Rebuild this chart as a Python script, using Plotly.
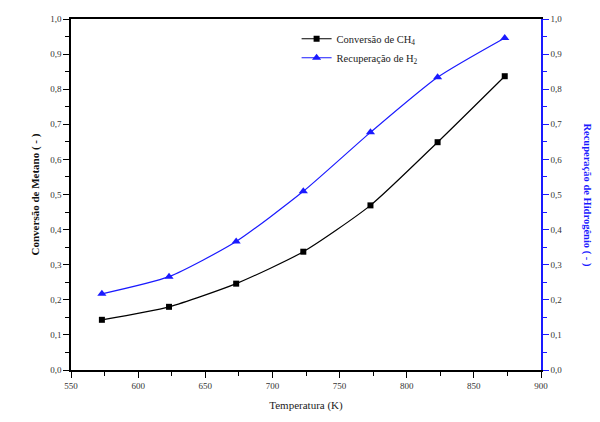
import plotly.graph_objects as go

temperature = [573, 623, 673, 723, 773, 823, 873]
conversao_ch4 = [0.143, 0.180, 0.246, 0.337, 0.469, 0.649, 0.837]
recuperacao_h2 = [0.217, 0.266, 0.366, 0.509, 0.677, 0.834, 0.946]

FONT = "Liberation Serif"
BLUE = "#1a1aff"

fig = go.Figure()
fig.add_trace(go.Scatter(
    x=temperature, y=conversao_ch4, name="Conversão de CH<sub>4</sub>",
    mode="lines+markers", line=dict(color="black", width=1.2, shape="spline", smoothing=0.6),
    marker=dict(symbol="square", size=6, color="black"),
))
fig.add_trace(go.Scatter(
    x=temperature, y=recuperacao_h2, name="Recuperação de H<sub>2</sub>",
    mode="lines+markers", line=dict(color=BLUE, width=1.2, shape="spline", smoothing=0.6),
    marker=dict(symbol="triangle-up", size=8, color=BLUE),
    yaxis="y2",
))

tickfont = dict(family=FONT, size=9, color="#333")

fig.update_layout(
    width=600, height=422,
    margin=dict(l=71, r=59, t=19, b=52),
    paper_bgcolor="white", plot_bgcolor="white",
    separators=",.",
    font=dict(family=FONT),
    showlegend=True,
    legend=dict(
        x=0.48, y=0.985, xanchor="left", yanchor="top",
        bgcolor="rgba(0,0,0,0)", font=dict(family=FONT, size=10.5, color="#222"),
        tracegroupgap=0, itemwidth=30,
    ),
    xaxis=dict(
        range=[550, 900], tick0=550, dtick=50,
        showgrid=False, zeroline=False, ticks="outside", ticklen=6, tickwidth=1.2, tickcolor="black",
        tickfont=tickfont,
        showline=True, linecolor="black", linewidth=1.5, mirror=True,
        minor=dict(ticks="outside", ticklen=4, tickwidth=1.2, dtick=25, tickcolor="black"),
        title=dict(text="Temperatura (K)", font=dict(family=FONT, size=11, color="#222"), standoff=12),
    ),
    yaxis=dict(
        range=[0, 1.0], tick0=0, dtick=0.1, tickformat=".1f",
        showgrid=False, zeroline=False, ticks="outside", ticklen=6, tickwidth=1.2, tickcolor="black",
        tickfont=tickfont,
        showline=True, linecolor="black", linewidth=1.5,
        minor=dict(ticks="outside", ticklen=4, tickwidth=1.2, dtick=0.05, tickcolor="black"),
        title=dict(text="<b>Conversão de Metano ( - )</b>", font=dict(family=FONT, size=11, color="#111"), standoff=8),
    ),
    yaxis2=dict(
        range=[0, 1.0], tick0=0, dtick=0.1, tickformat=".1f", overlaying="y", side="right",
        showgrid=False, zeroline=False, ticks="outside", ticklen=6, tickwidth=1.2, tickcolor=BLUE,
        tickfont=tickfont,
        showline=True, linecolor=BLUE, linewidth=1.5,
        minor=dict(ticks="outside", ticklen=4, tickwidth=1.2, dtick=0.05, tickcolor=BLUE),
    ),
    annotations=[dict(
        text="<b>Recuperação de Hidrogênio ( - )</b>", textangle=90,
        xref="paper", yref="paper", x=1.098, y=0.5, xanchor="center", yanchor="middle",
        showarrow=False, font=dict(family=FONT, size=10.5, color=BLUE),
    )],
)

fig.write_html("out.html")
